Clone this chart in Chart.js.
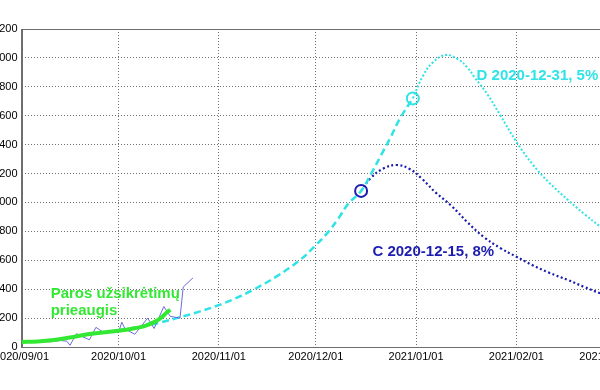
<!DOCTYPE html>
<html>
<head>
<meta charset="utf-8">
<style>
  html, body { margin: 0; padding: 0; background: #fff; overflow: hidden; }
  #wrap { position: absolute; left: -9px; top: 0; width: 655px; height: 390px; }
</style>
</head>
<body>
<div id="wrap"><canvas id="myChart"></canvas></div>
<script src="https://cdn.jsdelivr.net/npm/chart.js"></script>
<script>
// days counted from 2020-09-01
const tickDays = [0, 30, 61, 91, 122, 153, 181];
const tickLabels = ['2020/09/01', '2020/10/01', '2020/11/01', '2020/12/01', '2021/01/01', '2021/02/01', '2021/03/01'];

const blueDays = [0, 3, 6, 9, 12, 14, 15, 17, 19, 21, 23, 25, 27, 30, 31, 32, 35, 39, 41, 44, 46, 49, 50, 53];
const blueValues = [35, 30, 38, 36, 45, 40, 12, 92, 70, 50, 136, 106, 100, 100, 172, 125, 88, 200, 128, 280, 212, 200, 415, 478];

const greenDays = [0, 5, 10, 15, 20, 25, 30, 35, 38, 41, 43, 45, 46];
const greenValues = [35, 38, 48, 66, 86, 100, 112, 130, 145, 172, 200, 240, 258];

const cyanDays = [20, 25, 31, 40, 48, 55, 61, 66, 72, 79, 86, 91, 95, 98, 101, 105, 108, 111, 114, 117, 121];
const cyanValues = [88, 100, 120, 155, 200, 245, 290, 335, 400, 490, 600, 705, 800, 890, 990, 1080, 1195, 1320, 1445, 1580, 1720];

const cyanDotDays = [121, 124, 127, 131, 135, 138, 140, 144, 148, 153, 158, 163, 169, 174, 179];
const cyanDotValues = [1720, 1870, 1965, 2020, 1990, 1930, 1868, 1750, 1605, 1420, 1265, 1140, 1017, 920, 832];

const navyDays = [105, 108, 112, 116, 120, 124, 128, 133, 138, 143, 148, 153, 158, 163, 169, 174, 179];
const navyValues = [1080, 1170, 1236, 1259, 1232, 1160, 1070, 975, 860, 760, 685, 625, 566, 515, 463, 415, 371];

const markerDays = [105, 121];
const markerValues = [1080, 1720];

const CYAN = '#2fe3e6';
const NAVY = '#1c1cb0';
const GREEN = '#33e833';
const BLUE = '#6b6bdf';
const FONT = "'Liberation Sans', Arial, sans-serif";

function pts(xs, ys) {
  return xs.map((x, i) => ({ x: x, y: ys[i] }));
}

const notes = [
  { text: 'D 2020-12-31, 5%', day: 140.7, value: 1847, color: CYAN },
  { text: 'C 2020-12-15, 8%', day: 108.5, value: 630, color: NAVY },
  { text: 'Paros užsikrėtimų', day: 9, value: 339, color: GREEN },
  { text: 'prieaugis', day: 9, value: 221, color: GREEN }
];

const frame = {
  id: 'frame',
  beforeDatasetsDraw(chart) {
    const a = chart.chartArea, ctx = chart.ctx;
    ctx.save();
    ctx.strokeStyle = '#6e6e6e';
    ctx.lineWidth = 1;
    ctx.strokeRect(Math.round(a.left) + 0.5, Math.round(a.top) + 0.5, Math.round(a.right - a.left), Math.round(a.bottom - a.top));
    ctx.restore();
  },
  afterDatasetsDraw(chart) {
    const ctx = chart.ctx, sx = chart.scales.x, sy = chart.scales.y;
    ctx.save();
    ctx.font = 'bold 15px ' + FONT;
    ctx.textAlign = 'left';
    ctx.textBaseline = 'alphabetic';
    notes.forEach(n => {
      ctx.fillStyle = n.color;
      ctx.fillText(n.text, sx.getPixelForValue(n.day), sy.getPixelForValue(n.value));
    });
    ctx.restore();
  }
};

new Chart(document.getElementById('myChart'), {
  type: 'line',
  data: {
    datasets: [
      {
        type: 'scatter',
        data: [pts(markerDays, markerValues)[0]],
        pointRadius: 6, pointBorderWidth: 2, pointBorderColor: NAVY,
        pointBackgroundColor: 'rgba(0,0,0,0)', showLine: false, order: 0
      },
      {
        type: 'scatter',
        data: [pts(markerDays, markerValues)[1]],
        pointRadius: 6, pointBorderWidth: 2, pointBorderColor: CYAN,
        pointBackgroundColor: 'rgba(0,0,0,0)', showLine: false, order: 0
      },
      {
        data: pts(greenDays, greenValues),
        borderColor: GREEN, borderWidth: 4, pointRadius: 0,
        tension: 0.4, order: 1
      },
      {
        data: pts(blueDays, blueValues),
        borderColor: BLUE, borderWidth: 1, pointRadius: 0, tension: 0, order: 2
      },
      {
        data: pts(cyanDays, cyanValues),
        borderColor: CYAN, borderWidth: 2.5, borderDash: [7, 4], pointRadius: 0,
        tension: 0.4, order: 3
      },
      {
        data: pts(cyanDotDays, cyanDotValues),
        borderColor: CYAN, borderWidth: 2, borderDash: [2, 2], pointRadius: 0,
        tension: 0.4, order: 3
      },
      {
        data: pts(navyDays, navyValues),
        borderColor: NAVY, borderWidth: 2.2, borderDash: [2, 2.5], pointRadius: 0,
        tension: 0.4, order: 3
      }
    ]
  },
  options: {
    responsive: true,
    maintainAspectRatio: false,
    animation: false,
    layout: { padding: { top: 29, right: 10, left: 0, bottom: 0 } },
    plugins: { legend: { display: false }, tooltip: { enabled: false }, title: { display: false } },
    scales: {
      x: {
        type: 'linear',
        min: 0,
        max: 190,
        afterBuildTicks: s => { s.ticks = tickDays.map(v => ({ value: v })); },
        afterFit: s => { s.height = 43; },
        ticks: {
          autoSkip: false, maxRotation: 0, padding: 3, color: '#000',
          font: { family: FONT, size: 11 },
          callback: (v, i) => tickLabels[i]
        },
        grid: { color: '#707070', lineWidth: 1, drawTicks: false },
        border: { display: true, color: '#6e6e6e', dash: [1, 2] }
      },
      y: {
        min: 0,
        max: 2200,
        afterFit: s => { s.width = 30; },
        ticks: {
          stepSize: 200, padding: 4, color: '#000',
          font: { family: FONT, size: 11 }
        },
        grid: { color: '#707070', lineWidth: 1, drawTicks: false },
        border: { display: true, color: '#6e6e6e', dash: [1, 2] }
      }
    }
  },
  plugins: [frame]
});
</script>
</body>
</html>
